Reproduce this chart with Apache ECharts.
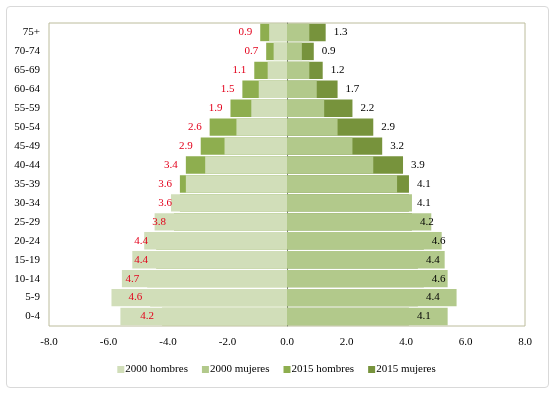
<!DOCTYPE html>
<html>
<head>
<meta charset="utf-8">
<script src="https://cdn.jsdelivr.net/npm/echarts@6/dist/echarts.min.js"></script>
<style>
  html, body { margin: 0; padding: 0; background: #fff; }
  #box { position: absolute; left: 6px; top: 6px; width: 541px; height: 380px; border: 1px solid #d9d9d9; border-radius: 4px; }
  #chart { position: absolute; left: 0; top: 0; width: 553px; height: 393px; }
</style>
</head>
<body>
<div id="box"></div>
<div id="chart"></div>
<script>
const ages = ['0-4', '5-9', '10-14', '15-19', '20-24', '25-29', '30-34', '35-39',
  '40-44', '45-49', '50-54', '55-59', '60-64', '65-69', '70-74', '75+'];
// values in %, hombres drawn to the left (negative)
const hombres2000 = [5.6, 5.9, 5.55, 5.2, 4.8, 4.45, 3.9, 3.4, 2.75, 2.1, 1.7, 1.2, 0.95, 0.65, 0.45, 0.6];
const mujeres2000 = [5.4, 5.7, 5.4, 5.3, 5.2, 4.85, 4.2, 3.7, 2.9, 2.2, 1.7, 1.25, 1.0, 0.75, 0.5, 0.75];
const hombres2015 = [4.2, 4.6, 4.7, 4.4, 4.4, 3.8, 3.6, 3.6, 3.4, 2.9, 2.6, 1.9, 1.5, 1.1, 0.7, 0.9];
const mujeres2015 = [4.1, 4.4, 4.6, 4.4, 4.6, 4.2, 4.1, 4.1, 3.9, 3.2, 2.9, 2.2, 1.7, 1.2, 0.9, 1.3];
const xTicks = [-8, -6, -4, -2, 0, 2, 4, 6, 8];

const chart = echarts.init(document.getElementById('chart'));
const font = '"Liberation Serif", "DejaVu Serif", serif';
const neg = arr => arr.map(v => -v);

const base = {
  type: 'bar',
  barGap: '-100%',
  barCategoryGap: '8%',
};

chart.setOption({
  animation: false,
  textStyle: { fontFamily: font },
  grid: { left: 49, top: 23, right: 28, bottom: 67, show: true, borderColor: '#bcbc9c', borderWidth: 1 },
  legend: {
    data: ['2000 hombres', '2000 mujeres', '2015 hombres', '2015 mujeres'],
    bottom: 13,
    left: 'center',
    itemWidth: 7,
    itemHeight: 7,
    itemGap: 14,
    icon: 'rect',
    textStyle: { fontFamily: font, fontSize: 11, color: '#000', padding: [0, 0, 0, -4] }
  },
  xAxis: {
    type: 'value',
    min: xTicks[0],
    max: xTicks[xTicks.length - 1],
    interval: 2,
    axisLine: { show: false },
    axisTick: { show: false },
    splitLine: { show: false },
    axisLabel: { fontFamily: font, fontSize: 11, color: '#000', margin: 11, formatter: v => v.toFixed(1) }
  },
  yAxis: {
    type: 'category',
    data: ages,
    axisLine: { show: true, onZero: true, lineStyle: { color: '#7f7f7f', width: 1 } },
    axisTick: { show: false },
    axisLabel: { fontFamily: font, fontSize: 11, color: '#000', margin: 9 }
  },
  series: [
    Object.assign({}, base, { name: '2015 hombres', data: neg(hombres2015), z: 2, itemStyle: { color: '#8eae4f' } }),
    Object.assign({}, base, { name: '2015 mujeres', data: mujeres2015, z: 2, itemStyle: { color: '#77933c' } }),
    Object.assign({}, base, { name: '2000 hombres', data: neg(hombres2000), z: 3, itemStyle: { color: '#d1deb9' } }),
    Object.assign({}, base, { name: '2000 mujeres', data: mujeres2000, z: 3, itemStyle: { color: '#b2c98b' } }),
    Object.assign({}, base, {
      name: 'lab h', data: neg(hombres2015), z: 5, silent: true,
      itemStyle: { color: 'rgba(0,0,0,0)' },
      label: { show: true, position: 'left', distance: 8, color: '#e3001b', fontFamily: font, fontSize: 11,
        formatter: p => Math.abs(p.value).toFixed(1) }
    }),
    Object.assign({}, base, {
      name: 'lab m', data: mujeres2015, z: 5, silent: true,
      itemStyle: { color: 'rgba(0,0,0,0)' },
      label: { show: true, position: 'right', distance: 8, color: '#000', fontFamily: font, fontSize: 11,
        formatter: p => p.value.toFixed(1) }
    })
  ]
});
</script>
</body>
</html>
